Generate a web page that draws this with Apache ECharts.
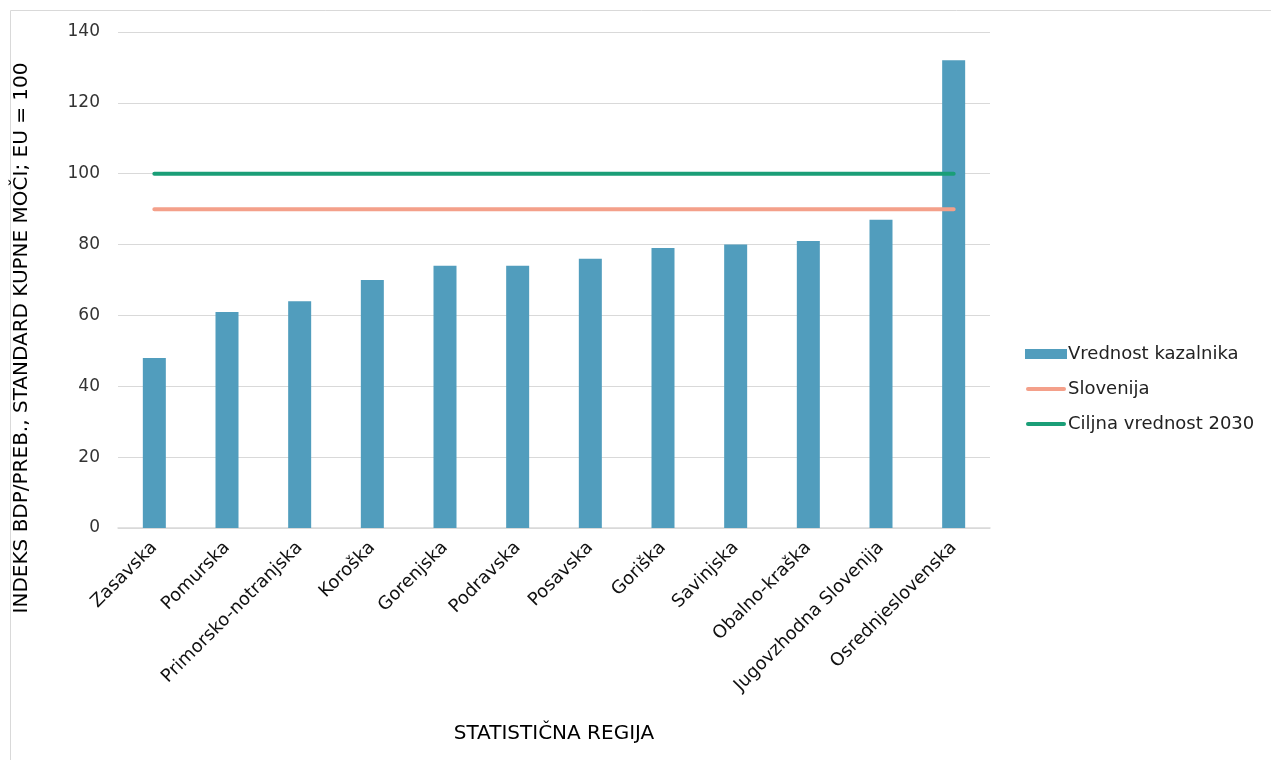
<!DOCTYPE html>
<html><head><meta charset="utf-8">
<script src="https://cdn.jsdelivr.net/npm/echarts@6/dist/echarts.min.js"></script>
<style>html,body{margin:0;padding:0;background:#fff}#c{width:1271px;height:760px}</style>
</head><body><div id="c"></div>
<script>
const categories = ['Zasavska','Pomurska','Primorsko-notranjska','Koroška','Gorenjska','Podravska','Posavska','Goriška','Savinjska','Obalno-kraška','Jugovzhodna Slovenija','Osrednjeslovenska'];
const indicatorValues = [48,61,64,70,74,74,76,79,80,81,87,132];
const sloveniaValue = 90;
const target2030Value = 100;
const sloveniaLine = categories.map(() => sloveniaValue);
const targetLine = categories.map(() => target2030Value);
const yTicks = [0,20,40,60,80,100,120,140];

const font = '"DejaVu Sans", sans-serif';
const lineIcon = 'path://M0,0 L0,0 M2,3 L38,3 A2,2 0 0 1 38,7 L2,7 A2,2 0 0 1 2,3 Z M40,10 L40,10';
const chart = echarts.init(document.getElementById('c'));
chart.setOption({
  animation: false,
  textStyle: {fontFamily: font},
  graphic: [
    {type:'rect', shape:{x:10.5,y:10.5,width:1270,height:760}, style:{fill:'none', stroke:'#d9d9d9', lineWidth:1}},
    {type:'text', x:22, y:338, rotation:Math.PI/2, style:{text:'INDEKS BDP/PREB., STANDARD KUPNE MOČI; EU = 100', fontSize:20, fontFamily:font, fill:'#000', align:'center', verticalAlign:'middle'}}
  ],
  grid: {left:118, right:281, top:32, bottom:232},
  legend: {
    orient:'vertical', left:1020, top:340, itemGap:17, itemWidth:42, itemHeight:10, itemStyle:{borderWidth:0},
    textStyle:{fontSize:18, color:'#222', fontFamily:font, padding:[0,0,0,-4]},
    data:[
      {name:'Vrednost kazalnika', icon:'rect'},
      {name:'Slovenija', icon:lineIcon},
      {name:'Ciljna vrednost 2030', icon:lineIcon}
    ]
  },
  xAxis: {
    type:'category', data:categories,
    name:'STATISTIČNA REGIJA', nameLocation:'middle', nameGap:196,
    nameTextStyle:{fontSize:20, color:'#000', fontFamily:font},
    axisLine:{lineStyle:{color:'#d9d9d9', width:1.5}},
    axisTick:{show:false},
    axisLabel:{rotate:45, fontSize:18, color:'#111', interval:0, margin:17, fontFamily:font}
  },
  yAxis: {
    type:'value', min:0, max:140, interval:20,
    axisLine:{show:false}, axisTick:{show:false},
    axisLabel:{fontSize:17, color:'#333', margin:18, fontFamily:font,
      formatter: v => yTicks.includes(v) ? String(v) : ''},
    splitLine:{lineStyle:{color:'#d9d9d9', width:1.2}}
  },
  series: [
    {name:'Vrednost kazalnika', type:'bar', data:indicatorValues, barWidth:23,
     itemStyle:{color:'#519dbd'}, z:1},
    {name:'Slovenija', type:'line', data:sloveniaLine, symbol:'none', showSymbol:false,
     lineStyle:{color:'#f4a08a', width:4, cap:'round'}, itemStyle:{color:'#f4a08a'}, z:3},
    {name:'Ciljna vrednost 2030', type:'line', data:targetLine, symbol:'none', showSymbol:false,
     lineStyle:{color:'#1a9e77', width:4, cap:'round'}, itemStyle:{color:'#1a9e77'}, z:3}
  ]
});
</script></body></html>
